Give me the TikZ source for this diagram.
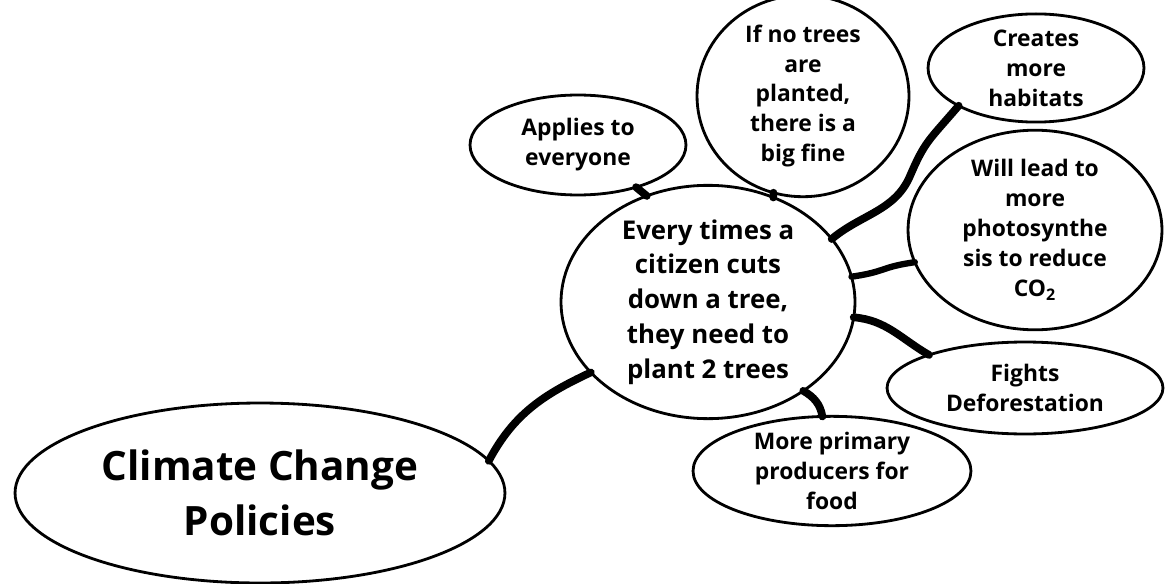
\documentclass[tikz,border=0pt]{standalone}
\usepackage{fontspec}
\setmainfont{Open Sans}
\usetikzlibrary{shapes.geometric}
\begin{document}
\begin{tikzpicture}[x=.02cm,y=-.02cm,line join=round,line cap=round,
	bubble/.style={ellipse,draw,line width=1.6pt,inner sep=0pt,outer sep=0pt,align=center,font=\bfseries\fontsize{13}{17}\selectfont},
	branch/.style={line width=4.4pt}]
	\useasboundingbox (0,0) rectangle (1165,584);
	\node[bubble,minimum width=9.8cm,minimum height=3.6cm,font=\bfseries\fontsize{23}{31}\selectfont] (policy) at (260,493) {Climate Change\\Policies};
	\node[bubble,minimum width=5.88cm,minimum height=4.2cm,font=\bfseries\fontsize{14.7}{19.8}\selectfont] (rule) at (708,302) {Every times a\\citizen cuts\\down a tree,\\they need to\\plant 2 trees};
	\node[bubble,minimum width=4.32cm,minimum height=2cm] (everyone) at (578,145) {Applies to\\everyone};
	\node[bubble,minimum width=4.24cm,minimum height=3.56cm] (fine) at (803,96) {If no trees\\are\\planted,\\there is a\\big fine};
	\node[bubble,minimum width=4.32cm,minimum height=2cm] (habitats) at (1036,68) {Creates\\more\\habitats};
	\node[bubble,minimum width=5.08cm,minimum height=3.68cm] (photo) at (1035,230) {Will lead to\\more\\photosynthe\\sis to reduce\\CO\textsubscript{2}};
	\node[bubble,minimum width=5.52cm,minimum height=1.84cm] (forest) at (1025,388) {Fights\\Deforestation};
	\node[bubble,minimum width=5.56cm,minimum height=2.04cm] (food) at (832,471) {More primary\\producers for\\food};
	\draw[branch] (policy.8) to[out=62,in=205] (rule.211);
	\draw[branch] (everyone.-36) -- (rule.120);
	\draw[branch] (fine.-107) -- (rule.58);
	\draw[branch] (habitats.206) .. controls +(-30,35) and +(15,-35) .. (910,176) .. controls +(-15,35) and +(30,-25) .. (rule.27);
	\draw[branch,line width=3.6pt] (photo.195) .. controls +(-35,5) and +(35,-5) .. (rule.10);
	\draw[branch] (rule.-6) to[out=-5,in=150] (forest.161);
	\draw[branch] (rule.-43) to[out=-30,in=100] (food.100);
\end{tikzpicture}
\end{document}
